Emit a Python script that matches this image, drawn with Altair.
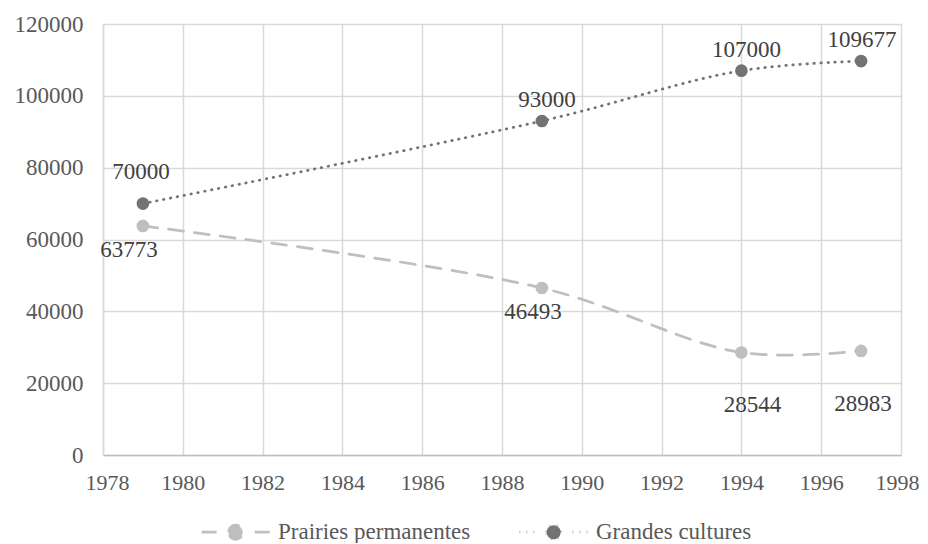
import altair as alt
import pandas as pd

years = [1979, 1989, 1994, 1997]
prairies = [63773, 46493, 28544, 28983]
grandes = [70000, 93000, 107000, 109677]
series_names = ["Prairies permanentes", "Grandes cultures"]
x_ticks = list(range(1978, 1999, 2))
y_ticks = list(range(0, 120001, 20000))

df = pd.DataFrame({
    "year": years * 2,
    "value": prairies + grandes,
    "series": [series_names[0]] * len(years) + [series_names[1]] * len(years),
})

FONT = "Liberation Serif"
TXT = "#595959"
GRID = "#d9d9d9"
COLORS = ["#bfbfbf", "#737373"]

color_scale = alt.Scale(domain=series_names, range=COLORS)
dash_scale = alt.Scale(domain=series_names, range=[[15, 11], [0.5, 6.5]])

legend_path = ("M-1,0H0.32M3.68,0H5"
               "M1.38,0A0.62,0.62,0,1,1,2.62,0A0.62,0.62,0,1,1,1.38,0Z")

legend = alt.Legend(
    title=None, orient="none", direction="horizontal",
    legendX=97, legendY=495,
    symbolType=legend_path, symbolSize=514, symbolStrokeWidth=2.75,
    symbolOpacity=1,
    labelOffset=52, columnPadding=43, labelLimit=500,
    labelFont=FONT, labelFontSize=23, labelColor=TXT,
)

x = alt.X("year:Q", scale=alt.Scale(domain=[1978, 1998], nice=False, zero=False),
          axis=alt.Axis(values=x_ticks, format="d", title=None, grid=True,
                        gridColor=GRID, gridWidth=1.5, ticks=False,
                        domainColor="#bfbfbf", domainWidth=1.5,
                        labelFont=FONT, labelFontSize=22, labelColor=TXT,
                        labelFlush=True, labelFlushOffset=18, labelOverlap=False,
                        labelPadding=17))
y = alt.Y("value:Q", scale=alt.Scale(domain=[0, 120000], nice=False),
          axis=alt.Axis(values=y_ticks, format="d", title=None, grid=True,
                        gridColor=GRID, gridWidth=1.5, ticks=False,
                        domainColor=GRID, domainWidth=1.5,
                        labelFont=FONT, labelFontSize=23, labelColor=TXT,
                        labelFlush=False, labelOverlap=False,
                        labelPadding=20))

base = alt.Chart(df)

lines = base.mark_line(interpolate="catmull-rom", strokeWidth=2.75, strokeCap="round").encode(
    x=x, y=y,
    stroke=alt.Stroke("series:N", scale=color_scale, legend=legend, sort=series_names),
    strokeDash=alt.StrokeDash("series:N", scale=dash_scale, legend=legend, sort=series_names),
)

points = base.mark_circle(size=160, opacity=1).encode(
    x="year:Q", y="value:Q",
    fill=alt.Fill("series:N", scale=color_scale, legend=legend, sort=series_names),
)

def label(series, yr, dx, dy):
    expr = f"datum.series == '{series}' && datum.year == {yr}"
    return base.mark_text(font=FONT, fontSize=23, color="#404040", dx=dx, dy=dy,
                          baseline="middle").encode(
        x="year:Q", y="value:Q", text=alt.Text("value:Q", format="d"),
    ).transform_filter(expr)

P, G = series_names
lab = [
    label(G, 1979, -2, -32), label(G, 1989, 5, -21),
    label(G, 1994, 5, -21), label(G, 1997, 1, -21),
    label(P, 1979, -14, 24), label(P, 1989, -9, 24),
    label(P, 1994, 11, 53), label(P, 1997, 2, 53),
]

chart = alt.layer(lines, points, *lab).properties(
    width=798, height=431,
    autosize=alt.AutoSizeParams(type="none"),
    padding={"left": 95, "top": 16, "right": 19, "bottom": 88},
).configure_view(stroke=None)

chart.save("out.html", embed_options={"renderer": "svg", "actions": False})
